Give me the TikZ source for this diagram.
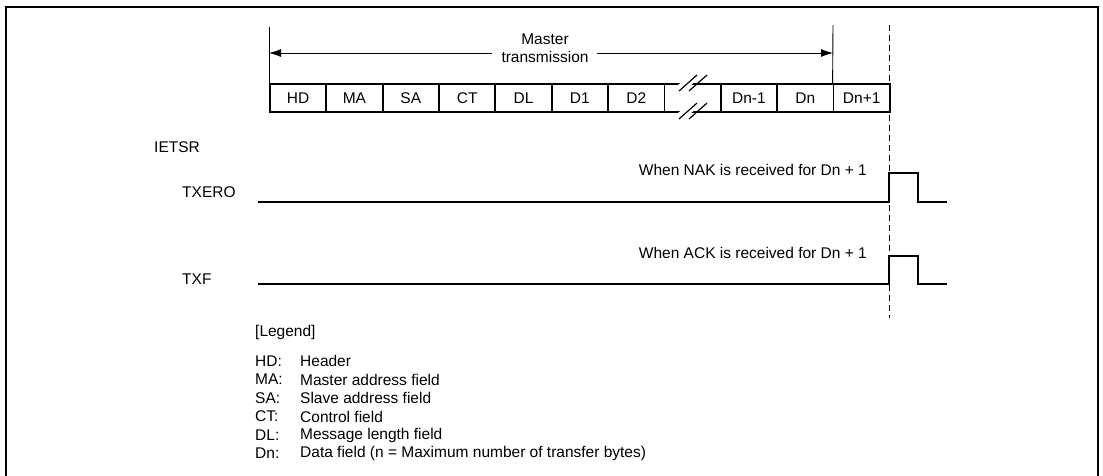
\documentclass[tikz,border=0pt]{standalone}
\usepackage{fontspec}
\setmainfont{Liberation Sans}
\usetikzlibrary{arrows.meta}
\begin{document}
\begin{tikzpicture}[x=1pt,y=-1pt,
  font=\fontsize{15.5}{18.5}\selectfont,
  field/.style={draw, line width=1.8pt, minimum width=56.36pt, minimum height=28pt, inner sep=0pt, anchor=north west},
  thin/.style={line width=0.9pt},
  frame/.style={line width=2.6pt},
  sig/.style={line width=2.2pt},
  guide/.style={line width=0.9pt, dash pattern=on 6pt off 4pt},
  arr/.style={line width=0.9pt, -{Latex[length=12pt,width=8pt]}},
  lbl/.style={anchor=west, inner sep=0pt},
  brk/.style={line width=1.2pt}]
\useasboundingbox (0,0) rectangle (1103,475);
% frame
\coordinate (fbl) at (6,476);
\coordinate (ftl) at (6,7);
\coordinate (ftr) at (1098,7);
\coordinate (fbr) at (1098,476);
\draw[frame] (fbl) -- (ftl) -- (ftr) -- (fbr);
% fields
\foreach \t/\n [count=\i from 0] in {HD/hd,MA/ma,SA/sa,CT/ct,DL/dl,D1/d1,D2/d2,{}/gap,Dn-1/dnm,Dn/dn,Dn+1/dnp}
  \node[field] (\n) at (269+\i*56.36,83) {\t};
% break marks
\fill[white] (678,85) -- (694,72) -- (707,72) -- (691,85) -- cycle;
\fill[white] (678,113) -- (694,100) -- (707,100) -- (691,113) -- cycle;
\foreach \yy in {83,111}{
  \draw[brk] (679,\yy+8) -- (697,\yy-8);
  \draw[brk] (689,\yy+8) -- (707,\yy-8);
}
% master transmission
\coordinate (lt) at (269,27);
\coordinate (rt) at (833,25);
\draw[thin] (lt) -- (hd.north west);
\draw[thin] (rt) -- (dnp.north west);
\node[align=center, inner sep=0pt] (mt) at (545,48) {Master\\transmission};
\coordinate (al) at (269,53);
\coordinate (ar) at (833,53);
\coordinate (ml) at (492,53);
\coordinate (mr) at (597,53);
\draw[arr] (ml) -- (al);
\draw[arr] (mr) -- (ar);
% dashed guide
\coordinate (dtop) at (889,25);
\coordinate (dbot) at (889,318);
\draw[guide] (dtop) -- (dbot);
% signals
\node[lbl] (ietsr) at (154,147) {IETSR};
\node[lbl] (txero) at (182,192) {TXERO};
\node[lbl] (txf) at (182,279) {TXF};
\coordinate (e0) at (258,202);
\coordinate (e1) at (889,202);
\coordinate (e2) at (889,173);
\coordinate (e3) at (918,173);
\coordinate (e4) at (918,202);
\coordinate (e5) at (947,202);
\draw[sig] (e0) -- (e1) -- (e2) -- (e3) -- (e4) -- (e5);
\coordinate (f0) at (258,284);
\coordinate (f1) at (889,284);
\coordinate (f2) at (889,256);
\coordinate (f3) at (918,256);
\coordinate (f4) at (918,284);
\coordinate (f5) at (947,284);
\draw[sig] (f0) -- (f1) -- (f2) -- (f3) -- (f4) -- (f5);
\node[anchor=east, inner sep=0pt] (nak) at (867,170) {When NAK is received for Dn + 1};
\node[anchor=east, inner sep=0pt] (ack) at (867,253) {When ACK is received for Dn + 1};
% legend
\node[lbl] (leg) at (255,332) {[Legend]};
\foreach \a/\b [count=\i from 0] in {HD:/Header,MA:/Master address field,SA:/Slave address field,CT:/Control field,DL:/Message length field,Dn:/Data field (n = Maximum number of transfer bytes)}{
  \node[lbl] (la\i) at (255,361+\i*18.5) {\a};
  \node[lbl] (lb\i) at (300,361+\i*18.5) {\b};
}
\end{tikzpicture}
\end{document}
